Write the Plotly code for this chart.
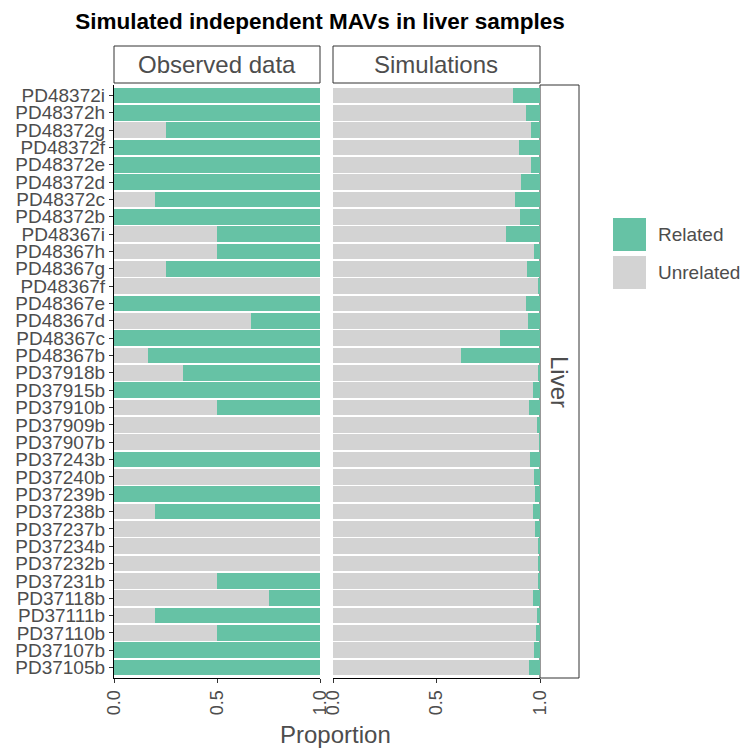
import plotly.graph_objects as go

# Samples, listed top to bottom as drawn
samples = [
    "PD48372i", "PD48372h", "PD48372g", "PD48372f", "PD48372e", "PD48372d",
    "PD48372c", "PD48372b", "PD48367i", "PD48367h", "PD48367g", "PD48367f",
    "PD48367e", "PD48367d", "PD48367c", "PD48367b", "PD37918b", "PD37915b",
    "PD37910b", "PD37909b", "PD37907b", "PD37243b", "PD37240b", "PD37239b",
    "PD37238b", "PD37237b", "PD37234b", "PD37232b", "PD37231b", "PD37118b",
    "PD37111b", "PD37110b", "PD37107b", "PD37105b",
]

# Proportion of related MAVs in the observed data
observed_related = [
    1.0, 1.0, 0.75, 1.0, 1.0, 1.0, 0.8, 1.0, 0.5, 0.5, 0.75, 0.0,
    1.0, 0.333, 1.0, 0.833, 0.667, 1.0, 0.5, 0.0, 0.0, 1.0, 0.0, 1.0,
    0.8, 0.0, 0.0, 0.0, 0.5, 0.25, 0.8, 0.5, 1.0, 1.0,
]

# Proportion of related MAVs across simulations
simulated_related = [
    0.130, 0.068, 0.045, 0.102, 0.044, 0.092, 0.121, 0.097, 0.162, 0.031,
    0.062, 0.005, 0.070, 0.057, 0.193, 0.383, 0.010, 0.035, 0.053, 0.013,
    0.002, 0.049, 0.031, 0.026, 0.035, 0.024, 0.010, 0.010, 0.012, 0.035,
    0.015, 0.019, 0.031, 0.053,
]

panel_titles = ["Observed data", "Simulations"]
row_strip = "Liver"
categories = ["Related", "Unrelated"]
colors = {"Related": "#66C2A5", "Unrelated": "#D3D3D3"}
x_ticks = [0.0, 0.5, 1.0]
x_ticklabels = ["0.0", "0.5", "1.0"]

W, H = 741, 750
FONT = "Liberation Sans, Arial, Helvetica, sans-serif"
TXT = "#4D4D4D"


def px(x):
    return x / W


def py(y):
    return 1 - y / H


fig = go.Figure()

for xa, rel in (("x", observed_related), ("x2", simulated_related)):
    unrel = [1 - r for r in rel]
    fig.add_trace(go.Bar(
        y=samples, x=unrel, orientation="h", xaxis=xa, yaxis="y",
        marker=dict(color=colors["Unrelated"], line=dict(width=0)),
        name="Unrelated", showlegend=False,
    ))
    fig.add_trace(go.Bar(
        y=samples, x=rel, orientation="h", xaxis=xa, yaxis="y",
        marker=dict(color=colors["Related"], line=dict(width=0)),
        name="Related", showlegend=False,
    ))

xcommon = dict(
    range=[0, 1], tickmode="array", tickvals=x_ticks, ticktext=x_ticklabels,
    tickangle=-90, ticks="outside", ticklen=4, tickcolor="#333333",
    tickwidth=1, showline=True, linecolor="#000000", linewidth=1.3,
    showgrid=False, zeroline=False, automargin=False,
    tickfont=dict(family=FONT, size=18, color=TXT),
    anchor="y", fixedrange=True,
)

fig.update_layout(
    width=W, height=H,
    margin=dict(l=0, r=0, t=0, b=0, autoexpand=False),
    paper_bgcolor="white", plot_bgcolor="white",
    barmode="stack", bargap=0.1,
    showlegend=False,
    xaxis=dict(domain=[px(114), px(320)], **xcommon),
    xaxis2=dict(domain=[px(333), px(540)], **xcommon),
    yaxis=dict(
        domain=[py(678), py(85)], anchor="x",
        categoryorder="array", categoryarray=samples,
        tickmode="array", tickvals=samples, ticktext=samples,
        range=[len(samples) - 1 + 0.6, -0.6],
        ticks="outside", ticklen=4, tickcolor="#333333",
        showline=True, linecolor="#000000", linewidth=1.3,
        showgrid=False, zeroline=False, automargin=False,
        tickfont=dict(family=FONT, size=19, color=TXT),
        fixedrange=True,
    ),
    title=dict(
        text="<b>Simulated independent MAVs in liver samples</b>",
        x=px(320), xanchor="center", y=py(21), yanchor="middle",
        font=dict(family=FONT, size=22.5, color="#000000"),
    ),
)

# Facet strips (top) and row strip (right)
strip_line = dict(color="#333333", width=1)
for (x0, x1), label in zip(((114, 320), (333, 540)), panel_titles):
    fig.add_shape(type="rect", xref="paper", yref="paper",
                  x0=px(x0), x1=px(x1), y0=py(83), y1=py(46),
                  line=strip_line, fillcolor="white", layer="below")
    fig.add_annotation(xref="paper", yref="paper", x=px((x0 + x1) / 2),
                       y=py(64.5), text=label, showarrow=False,
                       xanchor="center", yanchor="middle",
                       font=dict(family=FONT, size=24, color=TXT))

fig.add_shape(type="rect", xref="paper", yref="paper",
              x0=px(540), x1=px(579), y0=py(678), y1=py(85),
              line=strip_line, fillcolor="white", layer="below")
fig.add_annotation(xref="paper", yref="paper", x=px(559.5), y=py(381.5),
                   text=row_strip, showarrow=False, textangle=90,
                   xanchor="center", yanchor="middle",
                   font=dict(family=FONT, size=24, color=TXT))

# Axis title
fig.add_annotation(xref="paper", yref="paper", x=px(335), y=py(734),
                   text="Proportion", showarrow=False,
                   xanchor="center", yanchor="middle",
                   font=dict(family=FONT, size=24, color=TXT))

# Legend keys
for i, cat in enumerate(categories):
    top = 218 + i * 38
    fig.add_shape(type="rect", xref="paper", yref="paper",
                  x0=px(613), x1=px(646), y0=py(top + 33), y1=py(top),
                  line=dict(width=0), fillcolor=colors[cat])
    fig.add_annotation(xref="paper", yref="paper", x=px(656),
                       y=py(top + 16.5), text=cat, showarrow=False,
                       xanchor="left", yanchor="middle",
                       font=dict(family=FONT, size=19, color=TXT))

fig.write_html("out.html")
